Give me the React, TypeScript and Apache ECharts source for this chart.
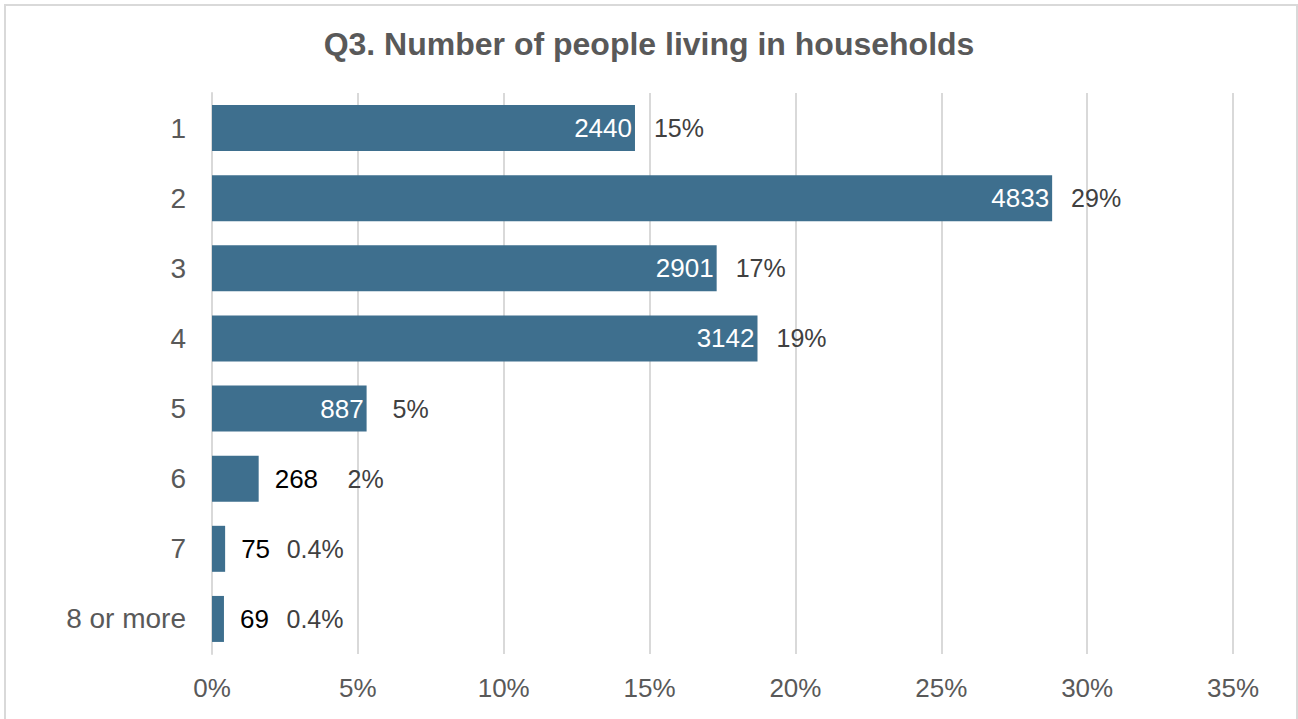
import React, { useEffect, useRef } from "react";
import * as echarts from "echarts";

const titleText = "Q3. Number of people living in households";
const categories = ["1", "2", "3", "4", "5", "6", "7", "8 or more"];
const counts = [2440, 4833, 2901, 3142, 887, 268, 75, 69];
const shares = [14.5, 28.8, 17.3, 18.7, 5.3, 1.6, 0.45, 0.41];
const shareLabels = ["15%", "29%", "17%", "19%", "5%", "2%", "0.4%", "0.4%"];
const xTicks = [0, 5, 10, 15, 20, 25, 30, 35];

const FONT = "'Liberation Sans', Arial, sans-serif";

export default function App() {
  const ref = useRef<HTMLDivElement>(null);

  useEffect(() => {
    document.body.style.margin = "0";
    if (!ref.current) return;
    const chart = echarts.init(ref.current, null, { renderer: "svg" });

    // small bars get their count outside the bar
    const outsideThreshold = 3;
    const pctDistanceOutside: Record<number, number> = { 5: 107, 6: 90, 7: 91 };

    const countData = shares.map((s) => {
      const outside = s < outsideThreshold;
      return {
        value: s,
        label: outside
          ? { position: "right", distance: 16, color: "#000000" }
          : { position: "insideRight", distance: 3, color: "#ffffff" },
      };
    });

    const pctData = shares.map((s, i) => ({
      value: s,
      label: {
        distance: pctDistanceOutside[i] !== undefined ? pctDistanceOutside[i] : 44,
      },
    }));

    chart.setOption({
      animation: false,
      backgroundColor: "#ffffff",
      title: {
        text: titleText,
        left: "center",
        top: 23,
        textStyle: {
          fontFamily: FONT,
          fontSize: 32,
          fontWeight: "bold",
          color: "#595959",
        },
      },
      graphic: [
        {
          type: "rect",
          shape: { x: 5, y: 5, width: 1292, height: 720 },
          style: { fill: "none", stroke: "#d9d9d9", lineWidth: 2 },
          silent: true,
        },
      ],
      grid: { left: 212, right: 65, top: 93, bottom: 65, containLabel: false },
      xAxis: {
        type: "value",
        min: xTicks[0],
        max: xTicks[xTicks.length - 1],
        interval: xTicks[1] - xTicks[0],
        axisLine: { show: false },
        axisTick: { show: false },
        splitLine: { show: true, lineStyle: { color: "#d9d9d9", width: 2 } },
        axisLabel: {
          formatter: "{value}%",
          fontFamily: FONT,
          fontSize: 26,
          color: "#595959",
          margin: 21,
        },
      },
      yAxis: {
        type: "category",
        data: categories,
        inverse: true,
        axisLine: { show: true, lineStyle: { color: "#d9d9d9", width: 2 } },
        axisTick: { show: false },
        axisLabel: {
          fontFamily: FONT,
          fontSize: 28,
          color: "#595959",
          margin: 26,
        },
      },
      series: [
        {
          type: "bar",
          name: "count",
          data: countData,
          barWidth: 46,
          itemStyle: { color: "#3e6f8e" },
          label: {
            show: true,
            fontFamily: FONT,
            fontSize: 26,
            formatter: (p: any) => String(counts[p.dataIndex]),
          },
          z: 3,
        },
        {
          type: "bar",
          name: "share",
          data: pctData,
          barWidth: 46,
          barGap: "-100%",
          silent: true,
          itemStyle: { color: "rgba(0,0,0,0)" },
          label: {
            show: true,
            position: "right",
            align: "center",
            fontFamily: FONT,
            fontSize: 25,
            color: "#404040",
            formatter: (p: any) => shareLabels[p.dataIndex],
          },
          z: 2,
        },
      ],
    });

    return () => chart.dispose();
  }, []);

  return <div ref={ref} style={{ width: 1298, height: 719 }} />;
}
